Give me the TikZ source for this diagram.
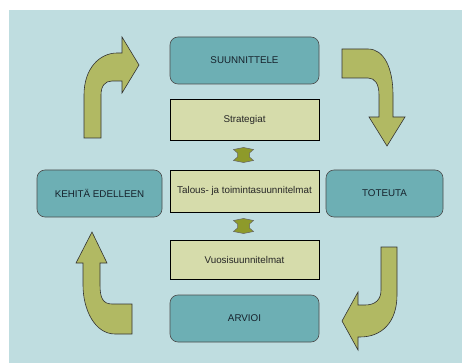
\documentclass[tikz,border=0pt]{standalone}
\usepackage{fontspec}
\setmainfont{Liberation Sans}
\usetikzlibrary{calc}
\definecolor{bgc}{HTML}{BFDDE0}
\definecolor{tealc}{HTML}{6DAFB4}
\definecolor{palec}{HTML}{D6DCAB}
\definecolor{olivec}{HTML}{B1B963}
\definecolor{darkolive}{HTML}{8E9A2A}
\definecolor{txtc}{HTML}{16222C}
\begin{document}
\begin{tikzpicture}[x=1pt,y=-1pt,
  phase/.style={draw=black!70,line width=0.6pt,fill=tealc,rounded corners=8pt,
    text=txtc,font=\fontsize{9.8}{11}\selectfont,inner sep=0pt,minimum height=47pt},
  doc/.style={draw=black,line width=0.6pt,fill=palec,text=black!85,
    font=\fontsize{9.8}{11}\selectfont,inner sep=0pt,minimum width=149pt},
  bigarrow/.style={draw=black!80,line width=0.6pt,fill=olivec},
  smallarrow/.style={draw=black!60,line width=0.5pt,fill=darkolive},
  pics/udarrow/.style={code={
    \path[smallarrow] (0,-7.5) -- (10,-5.5) -- (6,-2) -- (6,2) -- (10,5.5) -- (0,7.5)
      -- (-10,5.5) -- (-6,2) -- (-6,-2) -- (-10,-5.5) -- cycle;}}]
\useasboundingbox (0,0) rectangle (462,363);
\fill[bgc] (9,10) rectangle (462,363);

\node[phase,minimum width=149pt] (plan) at (244.5,60.5) {SUUNNITTELE};
\node[doc,minimum height=41pt] (strat) at (244.5,119.5) {Strategiat};
\node[doc,minimum height=42pt] (talous) at (244.5,191) {Talous- ja toimintasuunnitelmat};
\node[phase,minimum width=125pt] (kehita) at (99.5,193.5) {KEHITÄ EDELLEEN};
\node[phase,minimum width=117pt] (toteuta) at (384.5,193.5) {TOTEUTA};
\node[doc,minimum height=39pt] (vuosi) at (244.5,259.5) {Vuosisuunnitelmat};
\node[phase,minimum width=149pt] (arvioi) at (244.5,318.5) {ARVIOI};

\pic at ($(strat.south)!0.5!(talous.north)+(-1,0)$) {udarrow};
\pic at ($(talous.south)!0.5!(vuosi.north)+(-1,0)$) {udarrow};

% top-left curved arrow
\path[bigarrow] (84,138) -- (84,95) .. controls (84,68) and (100,53) .. (117,53)
  -- (122,53) -- (122,37) -- (139,65) -- (122,93) -- (122,81) -- (112,81)
  .. controls (105,81) and (101,86) .. (101,95) -- (101,138) -- cycle;
% top-right curved arrow
\path[bigarrow] (342,49) -- (368,49) .. controls (384,49) and (393,68) .. (393,95)
  -- (393,117) -- (405,117) -- (387,146) -- (369,117) -- (379,117) -- (379,95)
  .. controls (379,84) and (375,78) .. (368,78) -- (342,78) -- cycle;
% bottom-right curved arrow
\path[bigarrow] (381,247) -- (397,247) -- (397,295) .. controls (397,322) and (382,337) .. (360,337)
  -- (358,337) -- (358,350) -- (342,321) -- (358,292) -- (358,305) -- (365,305)
  .. controls (375,305) and (381,300) .. (381,290) -- cycle;
% bottom-left curved arrow
\path[bigarrow] (92,232) -- (107,263) -- (100,263) -- (100,285)
  .. controls (100,298) and (103,304) .. (112,304) -- (132,304) -- (132,334) -- (115,334)
  .. controls (95,334) and (83,310) .. (83,285) -- (83,263) -- (76,263) -- cycle;
\end{tikzpicture}
\end{document}
